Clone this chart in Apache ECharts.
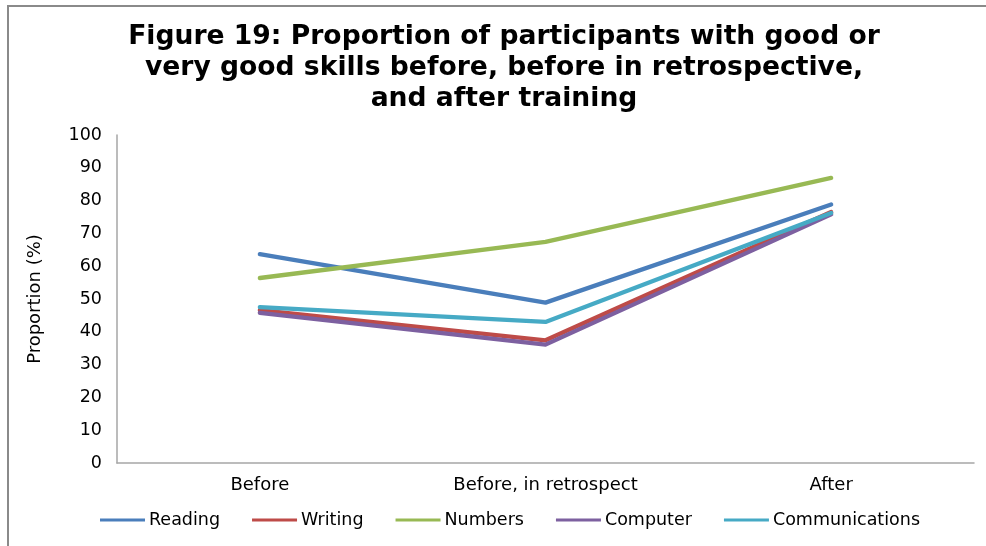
<!DOCTYPE html>
<html>
<head>
<meta charset="utf-8">
<script src="https://cdn.jsdelivr.net/npm/echarts@6/dist/echarts.min.js"></script>
<style>
  html, body { margin: 0; padding: 0; background: #fff; }
  #chart { width: 986px; height: 546px; }
</style>
</head>
<body>
<div id="chart"></div>
<script>
// Stages at which skills were rated
const categories = ['Before', 'Before, in retrospect', 'After'];

// Share of participants (%) rating their skills good or very good
const reading        = [63.7, 48.9, 78.8];
const writing        = [46.6, 37.4, 76.5];
const numbers        = [56.4, 67.4, 86.9];
const computer       = [45.8, 36.1, 75.8];
const communications = [47.5, 43.0, 76.2];

const yTicks = { min: 0, max: 100, interval: 10 };

const seriesDefs = [
  { name: 'Reading',        data: reading,        color: '#4A7EBB' },
  { name: 'Writing',        data: writing,        color: '#BE4B48' },
  { name: 'Numbers',        data: numbers,        color: '#98B954' },
  { name: 'Computer',       data: computer,       color: '#7D60A0' },
  { name: 'Communications', data: communications, color: '#46AAC5' }
];

const font = '"DejaVu Sans", Verdana, sans-serif';
const chart = echarts.init(document.getElementById('chart'), null, { renderer: 'canvas' });

chart.setOption({
  backgroundColor: '#fff',
  animation: false,
  title: {
    text: 'Figure 19: Proportion of participants with good or\nvery good skills before, before in retrospective,\nand after training',
    left: 499,
    textAlign: 'center',
    top: 17,
    textStyle: {
      fontFamily: font,
      fontWeight: 'bold',
      fontSize: 26.6,
      lineHeight: 31,
      color: '#000'
    }
  },
  graphic: [{
    type: 'rect',
    silent: true,
    shape: { x: 8, y: 6, width: 1000, height: 560 },
    style: { fill: null, stroke: '#8a8a8a', lineWidth: 2 }
  }],
  grid: { left: 117, right: 12, top: 135, bottom: 83, containLabel: false },
  legend: {
    bottom: 12,
    left: 95,
    itemWidth: 45,
    itemHeight: 12,
    itemGap: 32,
    icon: 'path://M0,5 L45,5 L45,8 L0,8 Z',
    textStyle: { fontFamily: font, fontSize: 17.5, color: '#000', padding: [0, 0, 0, -1] },
    data: seriesDefs.map(s => s.name)
  },
  xAxis: {
    type: 'category',
    data: categories,
    boundaryGap: true,
    axisLine: { lineStyle: { color: '#A6A6A6', width: 1.5 } },
    axisTick: { show: false },
    axisLabel: { fontFamily: font, fontSize: 18, color: '#000', margin: 13 }
  },
  yAxis: {
    type: 'value',
    min: yTicks.min,
    max: yTicks.max,
    interval: yTicks.interval,
    name: 'Proportion (%)',
    nameLocation: 'middle',
    nameGap: 73,
    nameRotate: 90,
    nameTextStyle: { fontFamily: font, fontSize: 18, color: '#000' },
    axisLine: { show: true, lineStyle: { color: '#A6A6A6', width: 1.5 } },
    axisTick: { show: false },
    splitLine: { show: false },
    axisLabel: { fontFamily: font, fontSize: 17.5, color: '#000', margin: 15 }
  },
  series: seriesDefs.map(s => ({
    name: s.name,
    type: 'line',
    data: s.data,
    symbol: 'none',
    color: s.color,
    lineStyle: { color: s.color, width: 4.3, cap: 'round', join: 'round' },
    itemStyle: { color: s.color }
  }))
});
</script>
</body>
</html>
